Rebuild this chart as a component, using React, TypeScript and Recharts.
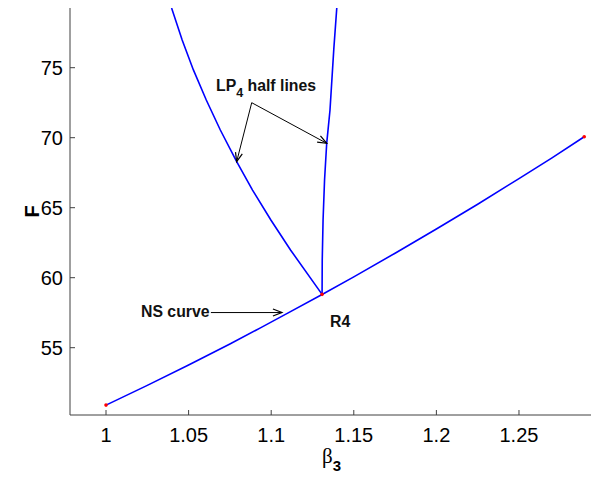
import React from 'react';
import { ComposedChart, Line, Scatter, XAxis, YAxis, ReferenceLine, ReferenceDot } from 'recharts';

// NS curve (beta3, F)
const nsBeta = [1.0, 1.025, 1.05, 1.075, 1.0932, 1.11, 1.1308, 1.15, 1.175, 1.2, 1.225, 1.25, 1.27, 1.2895];
const nsF = [50.9, 52.31, 53.77, 55.27, 56.4, 57.47, 58.8, 60.06, 61.75, 63.48, 65.25, 67.08, 68.56, 70.07];

// LP4 half line bending left from R4
const lpLeftBeta = [1.0397, 1.0461, 1.0529, 1.0607, 1.0692, 1.0791, 1.0887, 1.0998, 1.1117, 1.1308];
const lpLeftF = [79.26, 76.98, 74.84, 72.69, 70.55, 68.29, 66.26, 64.12, 61.98, 58.81];

// LP4 half line going almost straight up from R4
const lpRightBeta = [1.1308, 1.1309, 1.1314, 1.1323, 1.1336, 1.1356, 1.1379, 1.1397];
const lpRightF = [58.81, 61.26, 64.12, 66.98, 69.6, 71.98, 76.33, 79.26];

// end points and the R4 point (red markers)
const markBeta = [1.0, 1.1308, 1.2895];
const markF = [50.9, 58.81, 70.07];

const xTicks = [1, 1.05, 1.1, 1.15, 1.2, 1.25];
const yTicks = [55, 60, 65, 70, 75];

const toPoints = (bs: number[], fs: number[]) => bs.map((b, i) => ({ b, f: fs[i] }));
const nsData = toPoints(nsBeta, nsF);
const lpLeftData = toPoints(lpLeftBeta, lpLeftF);
const lpRightData = toPoints(lpRightBeta, lpRightF);
const markData = toPoints(markBeta, markF);

const FONT = '"Liberation Sans", Arial, Helvetica, sans-serif';
const AXIS = '#404040';
const BLUE = '#0000ff';

const XTick = ({ x, y, payload }: any) => (
  <g>
    <line x1={x} x2={x} y1={y} y2={y - 5} stroke={AXIS} />
    <text x={x} y={y + 27} textAnchor="middle" fontSize={20} fontFamily={FONT} fill="#000">
      {String(payload.value)}
    </text>
  </g>
);

const YTick = ({ x, y, payload }: any) => (
  <g>
    <line x1={x} x2={x + 5} y1={y} y2={y} stroke={AXIS} />
    <text x={x - 7} y={y + 7} textAnchor="end" fontSize={20} fontFamily={FONT} fill="#000">
      {String(payload.value)}
    </text>
  </g>
);

// line with an open arrow head at (x2, y2)
const Arrow = (p: any) => {
  const { x1, y1, x2, y2 } = p;
  const a = Math.atan2(y2 - y1, x2 - x1);
  const c = Math.cos(a);
  const s = Math.sin(a);
  const bx = x2 - 9 * c;
  const by = y2 - 9 * s;
  const w = 3.5;
  return (
    <g>
      <line x1={x1} y1={y1} x2={x2} y2={y2} stroke="#000" strokeWidth={1} />
      <path
        d={`M${bx - s * w},${by + c * w} L${x2},${y2} L${bx + s * w},${by - c * w}`}
        fill="none"
        stroke="#000"
        strokeWidth={1.2}
      />
    </g>
  );
};

const labelStyle = { fontSize: 15.8, fontWeight: 700, fontFamily: FONT, fill: '#111' };

const LpLabel = (p: any) => (
  <text x={p.cx} y={p.cy} {...labelStyle}>
    LP
    <tspan dy={6} fontSize={12.5}>4</tspan>
    <tspan dy={-6}> half lines</tspan>
  </text>
);

const NsLabel = (p: any) => (
  <text x={p.cx} y={p.cy} {...labelStyle}>NS curve</text>
);

const R4Label = (p: any) => (
  <text x={p.cx} y={p.cy} {...labelStyle}>R4</text>
);

const XLabel = ({ viewBox }: any) => {
  const cx = viewBox.x + viewBox.width / 2 + 1;
  return (
    <text x={cx} y={viewBox.y + 48} textAnchor="middle" fill="#000">
      <tspan fontSize={21} fontFamily='"Liberation Serif", "DejaVu Serif", serif'>β</tspan>
      <tspan dy={8} fontSize={15} fontWeight={700} fontFamily={FONT}>3</tspan>
    </text>
  );
};

const YLabel = ({ viewBox }: any) => {
  const cx = 32;
  const cy = viewBox.y + viewBox.height / 2;
  return (
    <text
      x={cx}
      y={cy}
      transform={`rotate(-90 ${cx} ${cy})`}
      textAnchor="middle"
      dominantBaseline="central"
      fontSize={20}
      fontWeight={700}
      fontFamily={FONT}
      fill="#000"
    >
      F
    </text>
  );
};

export default function App() {
  return (
    <div style={{ position: 'absolute', left: 0, top: 0, width: 591, height: 477, background: '#fff' }}>
      <ComposedChart width={591} height={477} margin={{ top: 8, right: 0, left: 0, bottom: 0 }}>
        <XAxis
          type="number"
          dataKey="b"
          domain={[0.9782, 1.2936]}
          allowDataOverflow
          ticks={xTicks}
          tickSize={0}
          tickMargin={0}
          tickLine={false}
          tick={<XTick />}
          height={62}
          stroke={AXIS}
          label={<XLabel />}
        />
        <YAxis
          type="number"
          dataKey="f"
          domain={[50.193, 79.264]}
          allowDataOverflow
          ticks={yTicks}
          tickSize={0}
          tickMargin={0}
          tickLine={false}
          tick={<YTick />}
          width={70}
          stroke={AXIS}
          label={<YLabel />}
        />
        <Line data={nsData} dataKey="f" stroke={BLUE} strokeWidth={1.6} dot={false} type="linear" isAnimationActive={false} />
        <Line data={lpLeftData} dataKey="f" stroke={BLUE} strokeWidth={1.6} dot={false} type="linear" isAnimationActive={false} />
        <Line data={lpRightData} dataKey="f" stroke={BLUE} strokeWidth={1.6} dot={false} type="linear" isAnimationActive={false} />
        <Scatter
          data={markData}
          dataKey="f"
          isAnimationActive={false}
          shape={(p: any) => <circle cx={p.cx} cy={p.cy} r={1.8} fill="#ff0000" />}
        />
        <ReferenceLine segment={[{ x: 1.0882, y: 72.5 }, { x: 1.0791, y: 68.29 }]} shape={Arrow} ifOverflow="visible" />
        <ReferenceLine segment={[{ x: 1.0882, y: 72.5 }, { x: 1.1336, y: 69.6 }]} shape={Arrow} ifOverflow="visible" />
        <ReferenceLine segment={[{ x: 1.0635, y: 57.51 }, { x: 1.1065, y: 57.51 }]} shape={Arrow} ifOverflow="visible" />
        <ReferenceDot x={1.0666} y={73.37} r={0} shape={LpLabel} ifOverflow="visible" />
        <ReferenceDot x={1.0212} y={57.21} r={0} shape={NsLabel} ifOverflow="visible" />
        <ReferenceDot x={1.1356} y={56.46} r={0} shape={R4Label} ifOverflow="visible" />
      </ComposedChart>
    </div>
  );
}
